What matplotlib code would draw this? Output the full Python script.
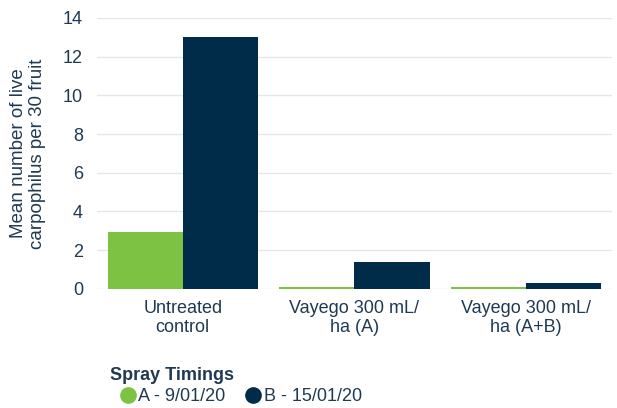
import numpy as np
from matplotlib import pyplot as plt
from matplotlib.lines import Line2D

# data
treatments = ['Untreated\ncontrol', 'Vayego 300 mL/\nha (A)', 'Vayego 300 mL/\nha (A+B)']
timing_a = [2.93, 0.08, 0.08]
timing_b = [13.0, 1.4, 0.32]
series_labels = ['A - 9/01/20', 'B - 15/01/20']

green = '#7dc242'
navy = '#002b49'
text_col = '#1f3a52'

plt.rcParams['font.family'] = ['Liberation Sans', 'DejaVu Sans']
fs = 13

fig = plt.figure(figsize=(6.17, 4.08), dpi=100)
ax = fig.add_axes([0.157, 0.292, 0.835, 0.664])

x = np.arange(len(treatments))
w = 0.437
ax.bar(x - w / 2, timing_a, width=w, color=green, zorder=3)
ax.bar(x + w / 2, timing_b, width=w, color=navy, zorder=3)

ax.set_xlim(-0.5, 2.5)
ax.set_ylim(0, 14)
ax.set_yticks(range(0, 15, 2))
ax.set_xticks(x)
ax.set_xticklabels(treatments, fontsize=fs, color=text_col, linespacing=1.15)
ax.tick_params(axis='y', labelsize=fs, labelcolor=text_col, length=0, pad=10)
ax.tick_params(axis='x', length=0, pad=8)
ax.grid(axis='y', color='#e6e6e6', linewidth=1, zorder=0)
for s in ax.spines.values():
    s.set_visible(False)

ax.set_ylabel('Mean number of live\ncarpophilus per 30 fruit', fontsize=13.5,
              color=text_col, labelpad=12, linespacing=1.15)

fig.text(0.178, 0.06, 'Spray Timings', fontsize=fs, fontweight='bold',
         color=text_col, va='bottom')
handles = [Line2D([], [], marker='o', linestyle='', markersize=11, color=c)
           for c in (green, navy)]
fig.legend(handles, series_labels, loc='lower left', bbox_to_anchor=(0.163, -0.033),
           ncol=2, frameon=False, fontsize=fs, labelcolor=text_col,
           handletextpad=0.0, columnspacing=0.9, handlelength=1.2)

plt.savefig('out.png', dpi=100)
